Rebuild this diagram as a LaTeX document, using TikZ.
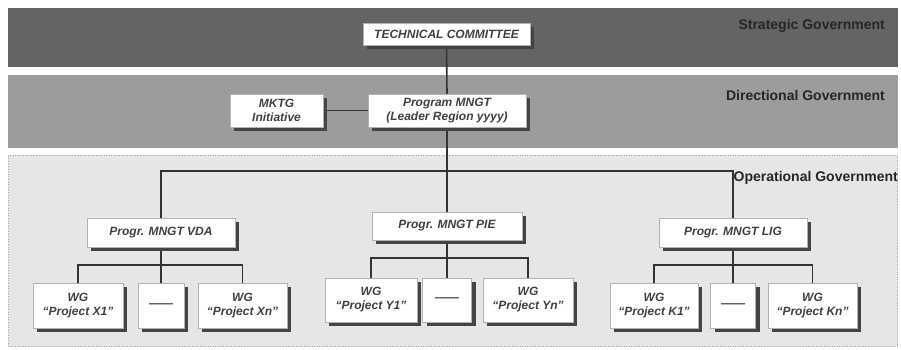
\documentclass[tikz,border=0pt]{standalone}
\usepackage{fontspec}
\setmainfont{Liberation Sans}
\usetikzlibrary{shadows,backgrounds}
\pgfdeclarelayer{bands}
\pgfsetlayers{bands,background,main}
\definecolor{bandA}{HTML}{646464}
\definecolor{bandB}{HTML}{9C9C9C}
\definecolor{bandC}{HTML}{E6E6E6}
\definecolor{linec}{HTML}{333333}
\definecolor{shadc}{HTML}{444444}
\tikzset{
  box/.style={draw=gray!60, line width=0.5pt, fill=white, inner sep=1pt, align=center,
    font=\fontsize{12}{14}\selectfont\bfseries\itshape, text=black!75,
    drop shadow={shadow xshift=4pt, shadow yshift=-4pt, fill=shadc, opacity=1}},
  conn/.style={draw=linec, line width=1.6pt},
  bandlabel/.style={font=\fontsize{14}{16}\selectfont\bfseries, text=black!85, anchor=north east, inner sep=0pt},
}
\begin{document}
\begin{tikzpicture}[x=1pt,y=-1pt]
\useasboundingbox (0,0) rectangle (901,350);
\begin{pgfonlayer}{bands}
\fill[white] (0,0) rectangle (901,350);
\fill[bandA] (8,8) rectangle (898,67);
\fill[bandB] (8,75) rectangle (898,148);
\fill[bandC] (8,155) rectangle (898,347);
\draw[gray!70, dotted, line width=0.6pt] (8.5,155.5) rectangle (897.5,346.5);
\end{pgfonlayer}

\node[bandlabel] (lstrat) at (885,19) {Strategic Government};
\node[bandlabel] (ldir) at (885,90) {Directional Government};
\node[bandlabel] (lop) at (898,171) {Operational Government};

\node[box, minimum width=167pt, minimum height=22pt] (tc) at (446.5,34) {TECHNICAL COMMITTEE};
\node[box, minimum width=93pt, minimum height=33pt] (mktg) at (276.5,110.5) {MKTG\\Initiative};
\node[box, minimum width=158pt, minimum height=33pt] (pm) at (447,110.5) {Program MNGT\\(Leader Region yyyy)};

\node[box, minimum width=148pt, minimum height=29pt] (vda) at (161,232.5) {Progr. MNGT VDA};
\node[box, minimum width=150pt, minimum height=28pt] (pie) at (447,226) {Progr. MNGT PIE};
\node[box, minimum width=148pt, minimum height=29pt] (lig) at (733,232.5) {Progr. MNGT LIG};

\node[box, minimum width=90pt, minimum height=45pt] (x1) at (78,305.5) {WG\\``Project X1''};
\node[box, minimum width=46pt, minimum height=45pt] (xd) at (161,305.5) {------};
\node[box, minimum width=89pt, minimum height=45pt] (xn) at (242.5,305.5) {WG\\``Project Xn''};

\node[box, minimum width=92pt, minimum height=44pt] (y1) at (371,300) {WG\\``Project Y1''};
\node[box, minimum width=49pt, minimum height=44pt] (yd) at (447,300) {------};
\node[box, minimum width=90pt, minimum height=44pt] (yn) at (528,300) {WG\\``Project Yn''};

\node[box, minimum width=88pt, minimum height=45pt] (k1) at (654,305.5) {WG\\``Project K1''};
\node[box, minimum width=45pt, minimum height=45pt] (kd) at (733,305.5) {------};
\node[box, minimum width=89pt, minimum height=45pt] (kn) at (812.5,305.5) {WG\\``Project Kn''};

\coordinate (bus) at (447,171);
\coordinate (vbar) at (161,265);
\coordinate (pbar) at (447,258);
\coordinate (lbar) at (733,265);

\begin{pgfonlayer}{background}
\draw[conn] (tc.south) -- (pm.north);
\draw[conn] (pm.south) -- (pie.north);
\draw[conn] (mktg.east) -- (pm.west);
\draw[conn] (vda.north) |- (bus) -| (lig.north);
\draw[conn] (vda.south) -- (xd.north);
\draw[conn] (x1.north) |- (vbar) -| (xn.north);
\draw[conn] (pie.south) -- (yd.north);
\draw[conn] (y1.north) |- (pbar) -| (yn.north);
\draw[conn] (lig.south) -- (kd.north);
\draw[conn] (k1.north) |- (lbar) -| (kn.north);
\end{pgfonlayer}
\end{tikzpicture}
\end{document}
